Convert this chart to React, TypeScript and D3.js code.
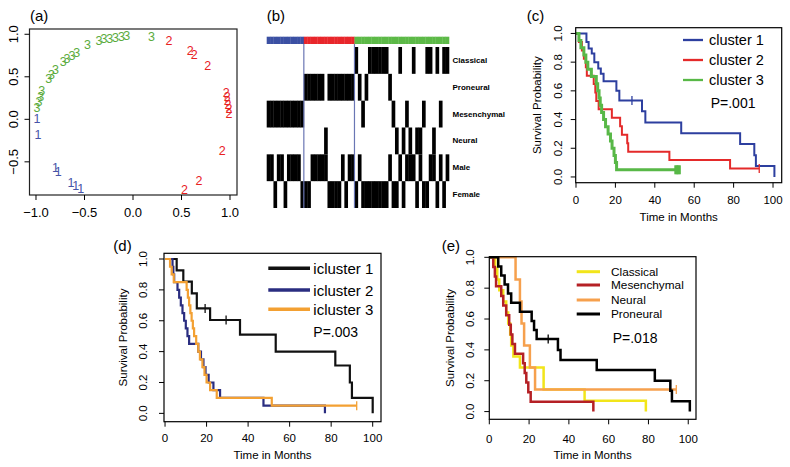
import React from 'react';
import * as d3 from 'd3';

const FONT = "'Liberation Sans', Arial, Helvetica, sans-serif";

// ---------------- Panel (a): MDS-like scatter of cluster labels ----------------
const mdsCluster1: [number, number][] = [[-0.99, 0.0], [-0.98, -0.18], [-0.80, -0.57], [-0.77, -0.62], [-0.64, -0.75], [-0.59, -0.79], [-0.54, -0.82]];
const mdsCluster2: [number, number][] = [[0.37, 0.92], [0.59, 0.80], [0.63, 0.76], [0.77, 0.63], [0.96, 0.31], [0.97, 0.26], [0.97, 0.22], [0.98, 0.17], [0.99, 0.12], [0.99, 0.06], [0.92, -0.37], [0.68, -0.72], [0.53, -0.83]];
const mdsCluster3: [number, number][] = [[-0.99, 0.13], [-0.97, 0.20], [-0.95, 0.26], [-0.94, 0.33], [-0.87, 0.47], [-0.84, 0.52], [-0.80, 0.58], [-0.72, 0.67], [-0.68, 0.71], [-0.63, 0.74], [-0.58, 0.78], [-0.47, 0.87], [-0.35, 0.92], [-0.30, 0.94], [-0.24, 0.95], [-0.18, 0.96], [-0.12, 0.97], [-0.065, 0.98], [0.19, 0.97]];
const mdsTicksX = [-1.0, -0.5, 0.0, 0.5, 1.0];
const mdsTicksY = [-0.5, 0.0, 0.5, 1.0];

// ---------------- Panel (b): heatmap ----------------
const heatRows = ['Classical', 'Proneural', 'Mesenchymal', 'Neural', 'Male', 'Female'];
const sampleCluster = '11111111111' + '222222222222222' + '3333333333333333333333333333';
const sampleSubtype = 'MMMMMMMMMMM' + 'PPPPPP' + 'N' + 'PPPPPPPP' + 'C' + 'P' + 'M' + 'P' + 'CCCCCC' + 'P' + 'M' + 'N' + 'C' + 'N' + 'M' + 'N' + 'C' + 'NN' + 'M' + 'CC' + 'N' + 'C' + 'M' + 'CC';
const sampleSex = 'MMFMMFMMMM' + 'FFFMMMMMFF' + 'FFMFMMFMFF' + 'FFFFFFMFFM' + 'FMMMFMFFMM' + 'FMFM';

// ---------------- Panel (c): survival by cluster ----------------
const c1Times = [5.3, 6.4, 8, 9.3, 11.3, 12.6, 14, 20.5, 22, 33.5, 35.2, 53.4, 83.3, 90.5, 91.3, 100.7];
const c1Surv = [0.94, 0.895, 0.86, 0.8, 0.756, 0.72, 0.667, 0.6, 0.533, 0.457, 0.38, 0.305, 0.229, 0.152, 0.076, 0];
const c1Censor = [28.4];
const c2Times = [1.5, 3, 4, 5, 5.5, 9, 9.8, 10.3, 11.5, 18.2, 22.4, 23.3, 26, 26.5, 47.4, 78.2];
const c2Surv = [0.941, 0.882, 0.824, 0.765, 0.706, 0.647, 0.588, 0.529, 0.471, 0.412, 0.353, 0.294, 0.235, 0.176, 0.118, 0.059];
const c2Censor = [93];
const c3Times = [1.5, 2.5, 4, 5, 6, 7.8, 10.3, 11, 11.7, 12.3, 13, 14, 15, 16.3, 17.5, 18.3, 19.3, 20, 20.6];
const c3Surv = [0.95, 0.9, 0.85, 0.8, 0.75, 0.7, 0.65, 0.6, 0.55, 0.5, 0.45, 0.4, 0.35, 0.3, 0.25, 0.2, 0.15, 0.1, 0.05];
const c3Censor = [50.5, 51.2, 51.9, 52.6];

// ---------------- Panel (d): survival by icluster ----------------
const d1Times = [5.6, 8.8, 12.9, 15.3, 21.7, 36.1, 53.3, 82, 89, 90, 100];
const d1Surv = [0.926, 0.853, 0.778, 0.68, 0.605, 0.51, 0.4, 0.31, 0.2, 0.1, 0];
const d1Censor = [19.3, 29.4];
const d2Times = [3.6, 4, 4.4, 6, 6.8, 7.6, 8.4, 9.2, 10, 10.8, 11.6, 16, 17.3, 18.5, 19.5, 21, 23.3, 26.5, 47.4, 77];
const d2Surv = [0.95, 0.9, 0.85, 0.8, 0.75, 0.7, 0.65, 0.6, 0.55, 0.5, 0.45, 0.4, 0.35, 0.3, 0.25, 0.2, 0.15, 0.1, 0.05, 0];
const d2Censor: number[] = [];
const d3Times = [2.4, 3.2, 4.2, 10.4, 11, 11.6, 12.2, 12.8, 13.4, 14, 15, 16, 16.8, 18, 19, 20, 21.7, 24.9, 51.4];
const d3Surv = [0.95, 0.9, 0.85, 0.8, 0.75, 0.7, 0.65, 0.6, 0.55, 0.5, 0.45, 0.4, 0.35, 0.3, 0.25, 0.2, 0.15, 0.1, 0.05];
const d3Censor = [92.3];

// ---------------- Panel (e): survival by subtype ----------------
const eClassTimes = [3, 4, 5, 7, 8.5, 9.5, 10.5, 11, 12.1, 15.4, 27.3, 47.9, 78.7];
const eClassSurv = [0.929, 0.857, 0.786, 0.714, 0.643, 0.571, 0.5, 0.429, 0.357, 0.286, 0.143, 0.071, 0];
const eMesTimes = [2, 2.8, 3.4, 6, 7, 8.5, 10, 10.8, 11.6, 12.9, 17, 17.8, 18.6, 19.6, 20.8, 52.3];
const eMesSurv = [0.938, 0.875, 0.813, 0.75, 0.688, 0.625, 0.563, 0.5, 0.438, 0.375, 0.313, 0.25, 0.188, 0.125, 0.063, 0];
const eNeuTimes = [13.2, 15.4, 16.2, 17.5, 20.4, 23];
const eNeuSurv = [0.857, 0.714, 0.571, 0.429, 0.286, 0.143];
const eNeuCensor = [94];
const eProTimes = [4.5, 6, 7.7, 9.4, 11, 15.4, 21.3, 22.5, 23.8, 34.5, 35.8, 54, 83.2, 91, 91.8, 100.8];
const eProSurv = [0.941, 0.882, 0.824, 0.765, 0.706, 0.647, 0.588, 0.529, 0.47, 0.4, 0.335, 0.27, 0.2, 0.135, 0.067, 0];
const eProCensor = [29.6];

const kmTicksX = [0, 20, 40, 60, 80, 100];
const kmTicksY = [0, 0.2, 0.4, 0.6, 0.8, 1.0];

type Curve = { times: number[]; surv: number[]; censor: number[]; color: string; width: number; label: string; censorWidth?: number };

function survAt(c: Curve, t: number) {
  let s = 1;
  c.times.forEach((tt, i) => { if (tt <= t) s = c.surv[i]; });
  return s;
}

function KMPanel(props: {
  box: { x0: number; x1: number; y0: number; y1: number };
  xDom: [number, number]; yDom: [number, number];
  curves: Curve[];
  tag: string; tagX: number; tagY: number;
  yTickOff: number; yTitleOff: number; xTickOff: number; xTitleOff: number;
  legend: { lx0: number; lx1: number; rows: number[]; tx: number; font: number; lw: number; order: number[] };
  pText: string; pX: number; pY: number; pFont: number;
}) {
  const { box, curves, legend } = props;
  const x = d3.scaleLinear().domain(props.xDom).range([box.x0, box.x1]);
  const y = d3.scaleLinear().domain(props.yDom).range([box.y1, box.y0]);
  const line = d3.line<[number, number]>().x(d => x(d[0])).y(d => y(d[1])).curve(d3.curveStepAfter);
  return (
    <g fontFamily={FONT}>
      <text x={props.tagX} y={props.tagY} fontSize={15} dominantBaseline="central">{props.tag}</text>
      {curves.map((c, i) => {
        const pts: [number, number][] = [[0, 1]];
        c.times.forEach((t, k) => pts.push([t, c.surv[k]]));
        const lastT = c.times[c.times.length - 1];
        const end = Math.max(lastT, ...c.censor);
        if (end > lastT) pts.push([end, c.surv[c.surv.length - 1]]);
        return (
          <g key={i}>
            <path d={line(pts) || ''} fill="none" stroke={c.color} strokeWidth={c.width} strokeLinejoin="miter" strokeLinecap="butt" />
            {c.censor.map((t, k) => (
              <line key={k} x1={x(t)} x2={x(t)} y1={y(survAt(c, t)) - 4.5} y2={y(survAt(c, t)) + 4.5} stroke={c.color} strokeWidth={c.censorWidth ?? 1.3} />
            ))}
          </g>
        );
      })}
      <rect x={box.x0} y={box.y0} width={box.x1 - box.x0} height={box.y1 - box.y0} fill="none" stroke="#000" strokeWidth={1.2} />
      {kmTicksX.map(t => (
        <g key={'x' + t}>
          <line x1={x(t)} x2={x(t)} y1={box.y1} y2={box.y1 + 5} stroke="#000" strokeWidth={1} />
          <text x={x(t)} y={box.y1 + props.xTickOff} fontSize={11.5} textAnchor="middle" dominantBaseline="central">{t}</text>
        </g>
      ))}
      {kmTicksY.map(t => (
        <g key={'y' + t}>
          <line x1={box.x0 - 5} x2={box.x0} y1={y(t)} y2={y(t)} stroke="#000" strokeWidth={1} />
          <text transform={`translate(${box.x0 - props.yTickOff},${y(t)}) rotate(-90)`} fontSize={11.5} textAnchor="middle" dominantBaseline="central">{t.toFixed(1)}</text>
        </g>
      ))}
      <text transform={`translate(${box.x0 - props.yTitleOff},${(box.y0 + box.y1) / 2}) rotate(-90)`} fontSize={11.5} textAnchor="middle" dominantBaseline="central">Survival Probability</text>
      <text x={(box.x0 + box.x1) / 2} y={box.y1 + props.xTitleOff} fontSize={11.5} textAnchor="middle" dominantBaseline="central">Time in Months</text>
      {legend.order.map((ci, r) => (
        <g key={'l' + r}>
          <line x1={legend.lx0} x2={legend.lx1} y1={legend.rows[r]} y2={legend.rows[r]} stroke={curves[ci].color} strokeWidth={legend.lw} />
          <text x={legend.tx} y={legend.rows[r]} fontSize={legend.font} dominantBaseline="central">{curves[ci].label}</text>
        </g>
      ))}
      <text x={props.pX} y={props.pY} fontSize={props.pFont} dominantBaseline="central">{props.pText}</text>
    </g>
  );
}

function PanelA() {
  const box = { x0: 29.5, x1: 237, y0: 29, y1: 195 };
  const x = d3.scaleLinear().domain([-1.067, 1.072]).range([box.x0, box.x1]);
  const y = d3.scaleLinear().domain([-0.89, 1.062]).range([box.y1, box.y0]);
  const groups: { pts: [number, number][]; label: string; color: string }[] = [
    { pts: mdsCluster1, label: '1', color: '#4654a8' },
    { pts: mdsCluster2, label: '2', color: '#e8211f' },
    { pts: mdsCluster3, label: '3', color: '#5aab3c' },
  ];
  return (
    <g fontFamily={FONT}>
      <text x={30} y={15} fontSize={15} dominantBaseline="central">(a)</text>
      {groups.map(g => g.pts.map((p, i) => (
        <text key={g.label + i} x={x(p[0])} y={y(p[1])} fill={g.color} fontSize={12.5} textAnchor="middle" dominantBaseline="central">{g.label}</text>
      )))}
      <rect x={box.x0} y={box.y0} width={box.x1 - box.x0} height={box.y1 - box.y0} fill="none" stroke="#222" strokeWidth={1.2} />
      {mdsTicksX.map(t => (
        <g key={'x' + t}>
          <line x1={x(t)} x2={x(t)} y1={box.y1} y2={box.y1 + 5} stroke="#000" />
          <text x={x(t)} y={212} fontSize={13} textAnchor="middle" dominantBaseline="central">{t.toFixed(1).replace('-', '\u2212')}</text>
        </g>
      ))}
      {mdsTicksY.map(t => (
        <g key={'y' + t}>
          <line x1={box.x0 - 5} x2={box.x0} y1={y(t)} y2={y(t)} stroke="#000" />
          <text transform={`translate(13,${y(t)}) rotate(-90)`} fontSize={13} textAnchor="middle" dominantBaseline="central">{t.toFixed(1).replace('-', '\u2212')}</text>
        </g>
      ))}
    </g>
  );
}

function PanelB() {
  const n = sampleSubtype.length;
  const x = d3.scaleLinear().domain([0, n]).range([266.7, 449]);
  const rowY = d3.scaleBand<string>().domain(heatRows).range([47, 208]);
  const clusterColor: Record<string, string> = { '1': '#3b50a3', '2': '#e8262b', '3': '#5cb947' };
  const subtypeCode: Record<string, string> = { Classical: 'C', Proneural: 'P', Mesenchymal: 'M', Neural: 'N' };
  const cells: { i: number; row: string }[] = [];
  for (let i = 0; i < n; i++) {
    heatRows.forEach(r => {
      if (subtypeCode[r] && sampleSubtype[i] === subtypeCode[r]) cells.push({ i, row: r });
      if (r === 'Male' && sampleSex[i] === 'M') cells.push({ i, row: r });
      if (r === 'Female' && sampleSex[i] === 'F') cells.push({ i, row: r });
    });
  }
  const boundaries: number[] = [];
  for (let i = 1; i < n; i++) if (sampleCluster[i] !== sampleCluster[i - 1]) boundaries.push(i);
  return (
    <g fontFamily={FONT}>
      <text x={266.7} y={15.8} fontSize={15} dominantBaseline="central">(b)</text>
      {Array.from(sampleCluster).map((c, i) => (
        <rect key={'b' + i} x={x(i)} y={36.7} width={x(i + 1) - x(i) + 0.3} height={7.3} fill={clusterColor[c]} />
      ))}
      {cells.map((c, k) => (
        <rect key={k} x={x(c.i)} y={rowY(c.row)!} width={x(c.i + 1) - x(c.i) + 0.3} height={rowY.bandwidth()} fill="#000" />
      ))}
      {boundaries.map(b => (
        <line key={'v' + b} x1={x(b)} x2={x(b)} y1={44} y2={208} stroke="#6a76b4" strokeWidth={1.2} />
      ))}
      {heatRows.map(r => (
        <text key={r} x={452.5} y={rowY(r)! + rowY.bandwidth() / 2} fontSize={8} fontWeight="bold" dominantBaseline="central">{r}</text>
      ))}
    </g>
  );
}

export default function App() {
  const curvesC: Curve[] = [
    { times: c1Times, surv: c1Surv, censor: c1Censor, color: '#2d3f9f', width: 2, label: 'cluster 1' },
    { times: c2Times, surv: c2Surv, censor: c2Censor, color: '#e42a2a', width: 2, label: 'cluster 2' },
    { times: c3Times, surv: c3Surv, censor: c3Censor, color: '#58b847', width: 3, label: 'cluster 3', censorWidth: 2.4 },
  ];
  const curvesD: Curve[] = [
    { times: d1Times, surv: d1Surv, censor: d1Censor, color: '#111111', width: 2.2, label: 'icluster 1' },
    { times: d2Times, surv: d2Surv, censor: d2Censor, color: '#2a2d80', width: 2.2, label: 'icluster 2' },
    { times: d3Times, surv: d3Surv, censor: d3Censor, color: '#f3a032', width: 2.2, label: 'icluster 3' },
  ];
  const curvesE: Curve[] = [
    { times: eClassTimes, surv: eClassSurv, censor: [], color: '#f2e51a', width: 2.5, label: 'Classical' },
    { times: eMesTimes, surv: eMesSurv, censor: [], color: '#b52025', width: 2.5, label: 'Mesenchymal' },
    { times: eNeuTimes, surv: eNeuSurv, censor: eNeuCensor, color: '#f6a04d', width: 2.5, label: 'Neural' },
    { times: eProTimes, surv: eProSurv, censor: eProCensor, color: '#000000', width: 2.5, label: 'Proneural' },
  ];
  return (
    <div style={{ position: 'absolute', left: 0, top: 0 }}>
      <svg width={790} height={467} style={{ display: 'block', background: '#fff' }}>
        <rect width={790} height={467} fill="#fff" />
        <PanelA />
        <PanelB />
        <KMPanel
          box={{ x0: 575.7, x1: 781.7, y0: 27.7, y1: 182.7 }} xDom={[-0.15, 104.4]} yDom={[-0.04, 1.04]}
          curves={curvesC} tag="(c)" tagX={526.7} tagY={15}
          yTickOff={17.7} yTitleOff={39} xTickOff={17.3} xTitleOff={34}
          legend={{ lx0: 683, lx1: 703, rows: [40, 60, 80], tx: 709, font: 14.5, lw: 2.3, order: [0, 1, 2] }}
          pText="P=.001" pX={710.7} pY={103} pFont={14}
        />
        <KMPanel
          box={{ x0: 164, x1: 381, y0: 253.3, y1: 421.7 }} xDom={[-0.5, 104]} yDom={[-0.054, 1.037]}
          curves={curvesD} tag="(d)" tagX={113.3} tagY={245.8}
          yTickOff={20.7} yTitleOff={40.7} xTickOff={16.7} xTitleOff={33.3}
          legend={{ lx0: 268.3, lx1: 310, rows: [268.3, 290, 309.3], tx: 313.3, font: 15, lw: 3.5, order: [0, 1, 2] }}
          pText="P=.003" pX={313.3} pY={331.7} pFont={14}
        />
        <KMPanel
          box={{ x0: 489.3, x1: 696, y0: 256.7, y1: 419.3 }} xDom={[0, 103.9]} yDom={[-0.05, 1.004]}
          curves={curvesE} tag="(e)" tagX={441.7} tagY={245}
          yTickOff={19.3} yTitleOff={39.3} xTickOff={20} xTitleOff={35.7}
          legend={{ lx0: 576.7, lx1: 600, rows: [271.7, 285, 300, 314], tx: 611, font: 11.8, lw: 3, order: [0, 1, 2, 3] }}
          pText="P=.018" pX={612.7} pY={338.3} pFont={14}
        />
      </svg>
    </div>
  );
}
